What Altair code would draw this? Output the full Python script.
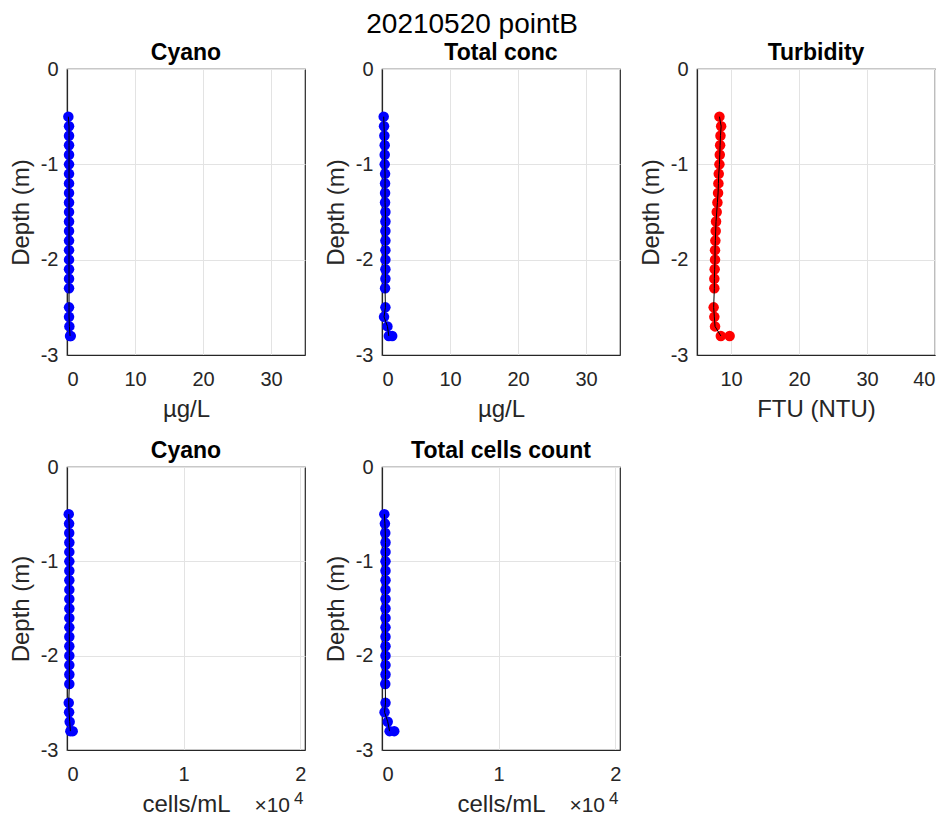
import altair as alt
import pandas as pd

depth = [-0.5, -0.6, -0.7, -0.8, -0.9, -1.0, -1.1, -1.2, -1.3, -1.4, -1.5, -1.6,
         -1.7, -1.8, -1.9, -2.0, -2.1, -2.2, -2.3, -2.5, -2.6, -2.7, -2.8, -2.8]
cyano_ugL = [0.2, 0.3, 0.3, 0.3, 0.3, 0.3, 0.3, 0.3, 0.3, 0.3, 0.3, 0.3,
             0.3, 0.3, 0.3, 0.3, 0.3, 0.3, 0.3, 0.3, 0.3, 0.35, 0.45, 0.55]
total_conc = [0.25, 0.3, 0.35, 0.4, 0.4, 0.4, 0.45, 0.45, 0.45, 0.45, 0.5, 0.5,
              0.5, 0.5, 0.5, 0.5, 0.5, 0.5, 0.45, 0.5, 0.3, 0.8, 1.0, 1.5]
turbidity = [8.3, 8.55, 8.45, 8.4, 8.35, 8.3, 8.2, 8.15, 8.1, 8.0, 7.9, 7.8,
             7.75, 7.7, 7.65, 7.65, 7.6, 7.55, 7.55, 7.45, 7.55, 7.65, 8.5, 9.8]
cyano_cells = [150, 180, 190, 200, 200, 200, 200, 200, 200, 200, 200, 200,
               200, 200, 200, 200, 200, 200, 200, 150, 180, 230, 290, 490]
total_cells = [200, 250, 280, 300, 300, 300, 300, 300, 300, 300, 300, 300,
               300, 300, 300, 300, 300, 300, 280, 300, 220, 490, 650, 1050]

x_ticks_ug = [0, 10, 20, 30]
x_ticks_ftu = [10, 20, 30, 40]
x_ticks_cells = [0, 10000, 20000]
y_ticks = [0, -1, -2, -3]

FONT = "Liberation Sans"
W = 238
H_TOP, H_BOTTOM = 286, 283


def panel(values, title, xtitle, domain, ticks, color, height, sci=False):
    df = pd.DataFrame({"depth": depth, "val": values, "order": list(range(len(depth)))})
    label_expr = "datum.value / 10000" if sci else "datum.value"
    x = alt.X("val:Q", scale=alt.Scale(domain=domain, nice=False, zero=False),
              axis=alt.Axis(values=ticks, title=xtitle, labelExpr=label_expr))
    y = alt.Y("depth:Q", scale=alt.Scale(domain=[-3, 0], nice=False),
              axis=alt.Axis(values=y_ticks, title="Depth (m)",
                            labelExpr="datum.value == 0 ? '0' : '-' + abs(datum.value)"))
    pts = alt.Chart(df).mark_circle(size=110, color=color, opacity=1).encode(x=x, y=y)
    line = alt.Chart(df.iloc[:-1]).mark_line(color="black", strokeWidth=1).encode(
        x=x, y=y, order="order:Q")
    layers = [pts, line]
    if sci:
        t1 = alt.Chart(pd.DataFrame({"t": ["×10"]})).mark_text(
            align="right", baseline="middle", font=FONT, fontSize=21, color="#262626"
        ).encode(x=alt.value(223), y=alt.value(height + 56), text="t:N")
        t2 = alt.Chart(pd.DataFrame({"t": ["4"]})).mark_text(
            align="left", baseline="middle", font=FONT, fontSize=17, color="#262626"
        ).encode(x=alt.value(227), y=alt.value(height + 49), text="t:N")
        layers += [t1, t2]
    return alt.layer(*layers).properties(
        width=W, height=height,
        title=alt.TitleParams(title, fontWeight="bold", fontSize=23, font=FONT,
                              color="black", offset=-6))


p1 = panel(cyano_ugL, "Cyano", "µg/L", [0, 35], x_ticks_ug, "#0000FF", H_TOP)
p2 = panel(total_conc, "Total conc", "µg/L", [0, 35], x_ticks_ug, "#0000FF", H_TOP)
p3 = panel(turbidity, "Turbidity", "FTU (NTU)", [5, 40], x_ticks_ftu, "#FF0000", H_TOP)
p4 = panel(cyano_cells, "Cyano", "cells/mL", [0, 20400], x_ticks_cells, "#0000FF", H_BOTTOM, sci=True)
p5 = panel(total_cells, "Total cells count", "cells/mL", [0, 20400], x_ticks_cells, "#0000FF", H_BOTTOM, sci=True)

chart = alt.concat(p1, p2, p3, p4, p5, columns=3, spacing={"row": 17, "column": 16}).properties(
    title=alt.TitleParams("20210520 pointB", fontSize=28, fontWeight="normal",
                          font=FONT, color="black", anchor="middle", offset=2),
    padding={"left": 0, "top": 3, "right": 0, "bottom": 0},
    background="white",
).configure_axis(
    labelFont=FONT, labelFontSize=20, labelColor="#262626",
    titleFont=FONT, titleFontSize=24, titleFontWeight="normal", titleColor="#262626",
    gridColor="#e3e3e3", gridWidth=1, domainColor="#262626", domainWidth=1.2,
    ticks=False,
).configure_axisX(labelPadding=14, titlePadding=8).configure_axisY(
    labelPadding=9, titlePadding=7
).configure_view(
    stroke="#262626", strokeWidth=1.2
)

chart.save("out.html", embed_options={"renderer": "svg", "actions": False})
